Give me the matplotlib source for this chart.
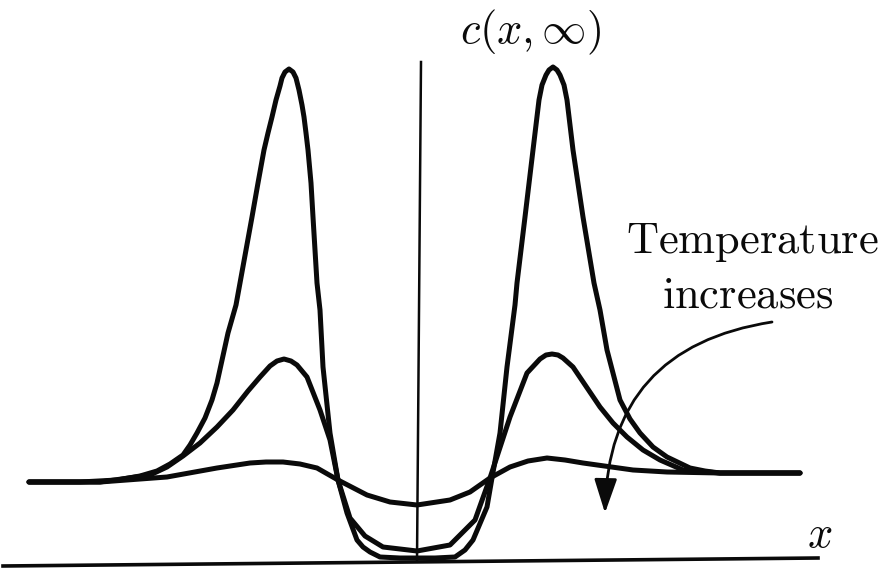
import matplotlib
matplotlib.use("Agg")
import matplotlib.pyplot as plt
from matplotlib.patches import FancyArrowPatch, ArrowStyle

plt.rcParams['mathtext.fontset'] = 'cm'

# Low temperature curve (tallest peaks)
x_low_T = [-3.88, -3.37, -3.00, -2.77, -2.60, -2.47, -2.34, -2.27, -2.20, -2.12,
           -2.05, -2.00, -1.89, -1.81, -1.77, -1.71, -1.65, -1.59, -1.53, -1.49,
           -1.45, -1.41, -1.37, -1.35, -1.32, -1.28, -1.24, -1.21, -1.18, -1.15,
           -1.13, -1.11, -1.09, -1.06, -1.04, -1.02, -1.00, -0.97, -0.94, -0.87,
           -0.79, -0.70, -0.60, -0.54, -0.47, -0.37, -0.17, 0.00, 0.18, 0.38,
           0.48, 0.56, 0.70, 0.75, 0.83, 0.90, 0.98, 1.00, 1.08, 1.16,
           1.19, 1.22, 1.25, 1.29, 1.32, 1.36, 1.40, 1.43, 1.47, 1.50,
           1.53, 1.56, 1.66, 1.77, 1.83, 1.90, 2.03, 2.13, 2.23, 2.36,
           2.50, 2.73, 2.88, 3.03, 3.43, 3.83]
c_low_T = [0.79, 0.79, 0.81, 0.85, 0.90, 0.97, 1.06, 1.16, 1.28, 1.43,
           1.61, 1.78, 2.28, 2.56, 2.78, 3.11, 3.44, 3.78, 4.11, 4.28,
           4.44, 4.61, 4.75, 4.83, 4.89, 4.92, 4.89, 4.83, 4.71, 4.56,
           4.44, 4.28, 4.11, 3.78, 3.44, 3.11, 2.78, 2.51, 1.94, 1.28,
           0.81, 0.48, 0.21, 0.14, 0.09, 0.04, 0.03, 0.03, 0.03, 0.04,
           0.11, 0.21, 0.54, 0.83, 1.28, 1.94, 2.56, 2.78, 3.44, 4.11,
           4.36, 4.61, 4.76, 4.86, 4.91, 4.94, 4.91, 4.86, 4.76, 4.61,
           4.36, 4.11, 3.44, 2.78, 2.51, 2.11, 1.61, 1.42, 1.28, 1.14,
           1.04, 0.93, 0.90, 0.88, 0.88, 0.88]

# Intermediate temperature curve
x_mid_T = [-3.88, -3.17, -2.67, -2.50, -2.34, -2.17, -2.00, -1.84, -1.69, -1.57,
           -1.47, -1.40, -1.33, -1.26, -1.20, -1.10, -0.97, -0.87, -0.79, -0.67,
           -0.52, -0.34, 0.00, 0.33, 0.58, 0.73, 0.93, 1.10, 1.23, 1.29,
           1.35, 1.41, 1.46, 1.56, 1.83, 1.96, 2.10, 2.26, 2.43, 2.66,
           3.03, 3.83]
c_mid_T = [0.79, 0.79, 0.86, 0.94, 1.05, 1.18, 1.34, 1.51, 1.70, 1.84,
           1.95, 2.00, 2.02, 2.00, 1.96, 1.84, 1.51, 1.21, 0.81, 0.43,
           0.25, 0.14, 0.10, 0.16, 0.41, 0.83, 1.44, 1.88, 2.02, 2.06,
           2.07, 2.06, 2.03, 1.94, 1.54, 1.38, 1.24, 1.11, 1.01, 0.91,
           0.88, 0.88]

# High temperature curve (flattest)
x_high_T = [-3.88, -3.17, -2.50, -2.00, -1.67, -1.51, -1.34, -1.17, -1.00, -0.79,
            -0.50, -0.27, 0.00, 0.33, 0.53, 0.73, 0.93, 1.11, 1.30, 1.48,
            1.66, 2.16, 2.50, 3.03, 3.83]
c_high_T = [0.79, 0.79, 0.84, 0.93, 0.98, 0.99, 0.99, 0.97, 0.93, 0.81,
            0.66, 0.59, 0.56, 0.61, 0.69, 0.83, 0.94, 1.00, 1.03, 1.01,
            0.98, 0.91, 0.89, 0.88, 0.88]

fig = plt.figure(figsize=(8.82, 5.68), dpi=100)
ax = fig.add_axes([0, 0, 1, 1])
ax.set_xlim(-4.17, 4.65)
ax.set_ylim(-0.07, 5.61)
ax.axis('off')

curve_kw = dict(color='#0a0a0a', lw=3.6, solid_capstyle='round', solid_joinstyle='round')
for xs, cs in [(x_low_T, c_low_T), (x_mid_T, c_mid_T), (x_high_T, c_high_T)]:
    ax.plot(xs, cs, **curve_kw)

# axes lines (as drawn in the figure)
ax.plot([-4.14, 4.01], [-0.05, 0.03], color='#0a0a0a', lw=2.6)
ax.plot([0.0, 0.04], [0.0, 4.99], color='#0a0a0a', lw=1.8)

ax.text(1.14, 5.18, r'$c(x,\infty)$', fontsize=32, ha='center', va='baseline', color='#0a0a0a')
ax.text(4.03, 0.14, r'$x$', fontsize=32, ha='center', va='baseline', color='#0a0a0a')
ax.text(3.35, 3.08, r'$\mathrm{Temperature}$', fontsize=32, ha='center', va='baseline', color='#0a0a0a')
ax.text(3.31, 2.53, r'$\mathrm{increases}$', fontsize=32, ha='center', va='baseline', color='#0a0a0a')

arrow = FancyArrowPatch((3.55, 2.39), (1.88, 0.48),
                        connectionstyle='arc3,rad=0.42',
                        arrowstyle=ArrowStyle('-|>', head_length=21, head_width=7),
                        mutation_scale=1, shrinkA=0, shrinkB=0,
                        color='#0a0a0a', lw=2.0)
ax.add_patch(arrow)

fig.savefig('out.png', dpi=100, facecolor='white')
